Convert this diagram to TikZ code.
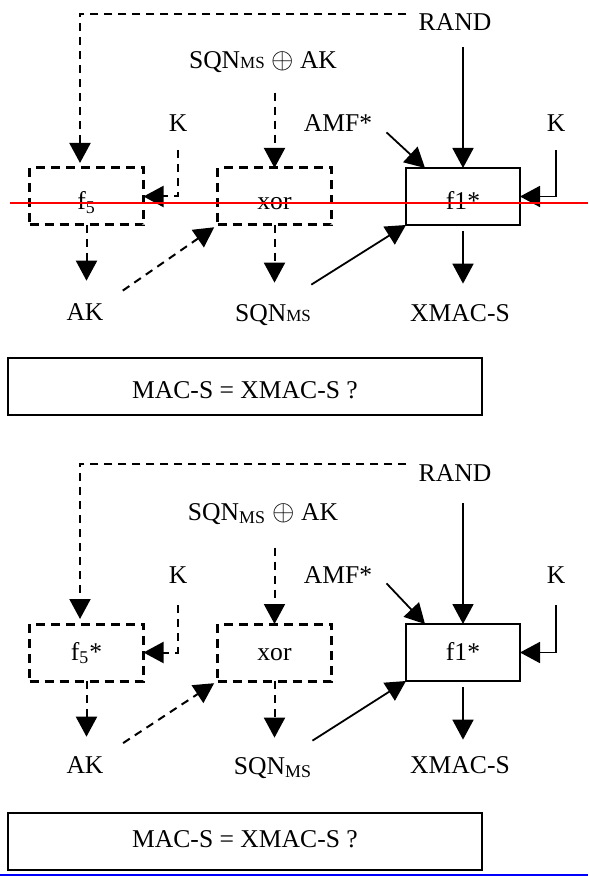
\documentclass[tikz,border=0pt]{standalone}
\usepackage{fontspec}
\setmainfont{Liberation Serif}
\usetikzlibrary{arrows.meta}
\newcommand{\msflat}{{\fontsize{8.5}{9}\selectfont MS}}
\newcommand{\mssub}{\textsubscript{MS}}
\newcommand{\bigxor}{{\fontsize{15.5}{16}\selectfont$\oplus$}}
\begin{document}
\begin{tikzpicture}[x=0.5pt, y=-0.5pt,
    every node/.style={font=\fontsize{12.8}{15}\selectfont},
    lbl/.style={inner sep=0pt, anchor=base},
    fbox/.style={draw, line width=1.5pt, dash pattern=on 4.5pt off 3pt, minimum width=57pt, minimum height=28.5pt, inner sep=0pt, outer sep=0pt},
    sbox/.style={draw, line width=1.4pt, minimum width=57pt, minimum height=28.5pt, inner sep=0pt, outer sep=0pt},
    arr/.style={-{Triangle[length=10pt,width=10.5pt]}, line width=0.9pt},
    dasharr/.style={arr, line width=1pt, dash pattern=on 4pt off 3pt},
    uptext/.style={text height=14pt, text depth=0.5pt},
    midtext/.style={text height=8pt, text depth=0.5pt}]
    \useasboundingbox (0,0) rectangle (588,876);

    \node[fbox, uptext] (f5a) at (86.5,196.5) {f\textsubscript{5}};
    \node[fbox, uptext] (xora) at (274.5,196.5) {xor};
    \node[sbox, uptext] (f1a) at (463,196.5) {f1*};
    \node[lbl] (randa) at (455,31) {RAND};
    \node[lbl] (sqnaka) at (263,69) {SQN\msflat{} \bigxor{} AK};
    \node[lbl] (ka) at (178,132) {K};
    \node[lbl] (amfa) at (338,132) {AMF*};
    \node[lbl] (kra) at (556,132) {K};
    \node[lbl] (aka) at (85,321) {AK};
    \node[lbl] (sqna) at (273,322) {SQN\msflat};
    \node[lbl] (xmaca) at (460,322) {XMAC-S};
    \node[sbox, line width=1.2pt, minimum width=237pt, text height=12pt, text depth=0.5pt] (maca) at (245,386.5) {MAC-S = XMAC-S ?};

    \draw[dasharr, shorten >=2.5pt] ([xshift=-6pt]randa.north west) -| ([xshift=-3.25pt]f5a.north);
    \draw[dasharr, shorten <=9.5pt] (sqnaka.south -| xora.north) -- (xora.north);
    \draw[dasharr, shorten <=9pt] (ka.south) |- (f5a.east);
    \draw[arr] ([xshift=7pt]amfa.south east) -- ([xshift=9.5pt]f1a.north west);
    \draw[arr, shorten <=8pt] (randa.south -| f1a.north) -- (f1a.north);
    \draw[arr, shorten <=9pt] (kra.south) |- (f1a.east);
    \draw[dasharr, shorten >=11.5pt] (f5a.south) -- (f5a.south |- aka.north);
    \draw[dasharr, shorten <=11.5pt, shorten >=2pt] (aka.north east) -- (xora.south west);
    \draw[dasharr, shorten >=11pt] (xora.south) -- (xora.south |- sqna.north);
    \draw[arr] ([yshift=10pt]sqna.north east) -- (f1a.south west);
    \draw[arr, shorten <=3pt, shorten >=10.5pt] (f1a.south) -- (f1a.south |- xmaca.north);

    \node[fbox, midtext] (f5b) at (86.5,652.5) {f\textsubscript{5}*};
    \node[fbox, midtext] (xorb) at (274.5,652.5) {xor};
    \node[sbox, midtext] (f1b) at (463,652.5) {f1*};
    \node[lbl] (randb) at (455,481) {RAND};
    \node[lbl] (sqnakb) at (263,520) {SQN\mssub{} \bigxor{} AK};
    \node[lbl] (kb) at (178,583) {K};
    \node[lbl] (amfb) at (338,583) {AMF*};
    \node[lbl] (krb) at (556,583) {K};
    \node[lbl] (akb) at (85,773) {AK};
    \node[lbl] (sqnb) at (273,774) {SQN\mssub};
    \node[lbl] (xmacb) at (460,773) {XMAC-S};
    \node[sbox, line width=1.2pt, minimum width=237pt, text height=6pt, text depth=0.5pt] (macb) at (245,841.5) {MAC-S = XMAC-S ?};

    \draw[dasharr, shorten >=2.5pt] ([xshift=-6pt]randb.north west) -| ([xshift=-3.25pt]f5b.north);
    \draw[dasharr, shorten <=11.5pt] (sqnakb.south -| xorb.north) -- (xorb.north);
    \draw[dasharr, shorten <=11pt] (kb.south) |- (f5b.east);
    \draw[arr] ([xshift=7pt]amfb.south east) -- ([xshift=9.5pt]f1b.north west);
    \draw[arr, shorten <=11pt] (randb.south -| f1b.north) -- (f1b.north);
    \draw[arr, shorten <=11pt] (krb.south) |- (f1b.east);
    \draw[dasharr, shorten >=9.5pt] (f5b.south) -- (f5b.south |- akb.north);
    \draw[dasharr, shorten <=11.5pt, shorten >=2pt] (akb.north east) -- (xorb.south west);
    \draw[dasharr, shorten >=9.5pt] (xorb.south) -- (xorb.south |- sqnb.north);
    \draw[arr] ([yshift=8pt]sqnb.north east) -- (f1b.south west);
    \draw[arr, shorten <=3pt, shorten >=8pt] (f1b.south) -- (f1b.south |- xmacb.north);

    \draw[red, line width=1pt] (10,203) -- (588,203);
    \draw[blue, line width=0.8pt] (0,875) -- (588,875);
\end{tikzpicture}
\end{document}
